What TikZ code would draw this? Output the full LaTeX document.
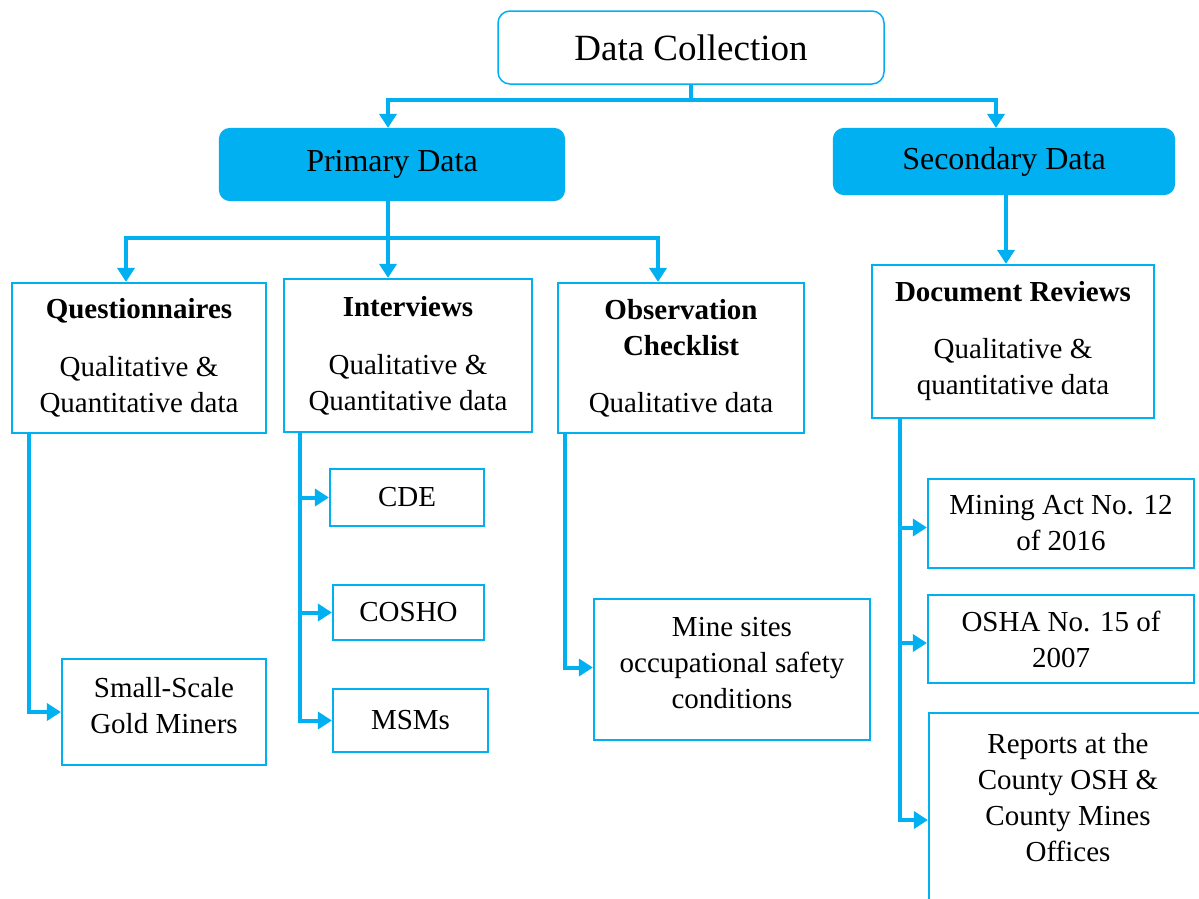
\documentclass[tikz,border=0pt]{standalone}
\usepackage{fontspec}
\setmainfont{Liberation Serif}
\usetikzlibrary{arrows.meta}
\definecolor{cyanb}{HTML}{00B0F0}
\begin{document}
\begin{tikzpicture}[x=1pt,y=-1pt,
  box/.style={draw=cyanb, line width=2.2pt, inner sep=0pt, align=center, font=\fontsize{29}{36}\selectfont},
  conn/.style={draw=cyanb, line width=4pt},
  arr/.style={conn, -{Triangle[width=17pt,length=14pt]}}]
\useasboundingbox (0,0) rectangle (1199,898);

% top level
\node[box, line width=1.5pt, rounded corners=12pt, minimum width=386pt, minimum height=73pt,
  font=\fontsize{37}{44}\selectfont] (dc) at (691,47.5) {Data Collection};
\node[box, fill=cyanb, rounded corners=10pt, minimum width=344pt, minimum height=71pt,
  font=\fontsize{32}{38}\selectfont] (pd) at (392,164.5) {Primary Data};
\node[box, fill=cyanb, rounded corners=10pt, minimum width=340pt, minimum height=65pt,
  font=\fontsize{32}{38}\selectfont] (sd) at (1004,161.5) {Secondary Data};

% method boxes
\node[box, minimum width=254pt, minimum height=150pt] (q) at (139,358)
  {\textbf{Questionnaires}\\[22pt]Qualitative \&\\Quantitative data};
\node[box, minimum width=248pt, minimum height=153pt] (int) at (408,355.5)
  {\textbf{Interviews}\\[22pt]Qualitative \&\\Quantitative data};
\node[box, minimum width=246pt, minimum height=150pt] (obs) at (681,358)
  {\textbf{Observation}\\\textbf{Checklist}\\[21pt]Qualitative data};
\node[box, minimum width=282pt, minimum height=153pt] (doc) at (1013,341.5)
  {\textbf{Document Reviews}\\[21pt]Qualitative \&\\quantitative data};

% leaf boxes
\node[box, minimum width=204pt, minimum height=106pt] (ssg) at (164,712) {Small-Scale\\Gold Miners\\[-22pt]\mbox{}};
\node[box, minimum width=154pt, minimum height=57pt] (cde) at (407,497.5) {CDE};
\node[box, minimum width=151pt, minimum height=55pt] (cosho) at (408.5,612.5) {COSHO};
\node[box, minimum width=155pt, minimum height=63pt] (msm) at (410.5,720.5) {MSMs};
\node[box, minimum width=276pt, minimum height=141pt] (mine) at (732,669.5)
  {Mine sites\\occupational safety\\conditions\\[-22pt]\mbox{}};
\node[box, minimum width=266pt, minimum height=89pt] (mining) at (1061,523.5) {Mining Act No. 12\\of 2016};
\node[box, minimum width=266pt, minimum height=88pt] (osha) at (1061,639) {OSHA No. 15 of\\2007};
\node[box, minimum width=280pt, minimum height=220pt] (reports) at (1069,823) {};
\node[align=center, inner sep=0pt, font=\fontsize{29}{36}\selectfont] (reportstxt) at (1068,797.5)
  {Reports at the\\County OSH \&\\County Mines\\Offices};

% connectors top
\coordinate (j1) at (691,100);
\draw[conn] (dc.south) -- (j1);
\draw[arr] (j1) -| ([xshift=-4pt]pd.north);
\draw[arr] (j1) -| ([xshift=-8pt]sd.north);

\coordinate (j2) at (388,238);
\draw[conn] ([xshift=-4pt]pd.south) -- (j2);
\draw[arr] (j2) -| ([xshift=-13pt]q.north);
\draw[arr] (j2) -- ([xshift=-20pt]int.north);
\draw[arr] (j2) -| ([xshift=-23pt]obs.north);
\draw[arr] ([xshift=2pt]sd.south) -- ([xshift=-7pt]doc.north);

% branches
\draw[arr] ([xshift=18pt]q.south west) |- (ssg.west);
\draw[arr] ([xshift=17pt]int.south west) |- (msm.west);
\draw[arr] ([xshift=17pt]int.south west) |- (cde.west);
\draw[arr] ([xshift=17pt]int.south west) |- (cosho.west);
\draw[arr] ([xshift=8pt]obs.south west) |- ([yshift=2pt]mine.west);
\draw[arr] ([xshift=29pt]doc.south west) |- ([yshift=-4pt]mining.west);
\draw[arr] ([xshift=29pt]doc.south west) |- ([yshift=-4pt]osha.west);
\draw[arr] ([xshift=29pt]doc.south west) |- ([yshift=3pt]reports.west);
\end{tikzpicture}
\end{document}
